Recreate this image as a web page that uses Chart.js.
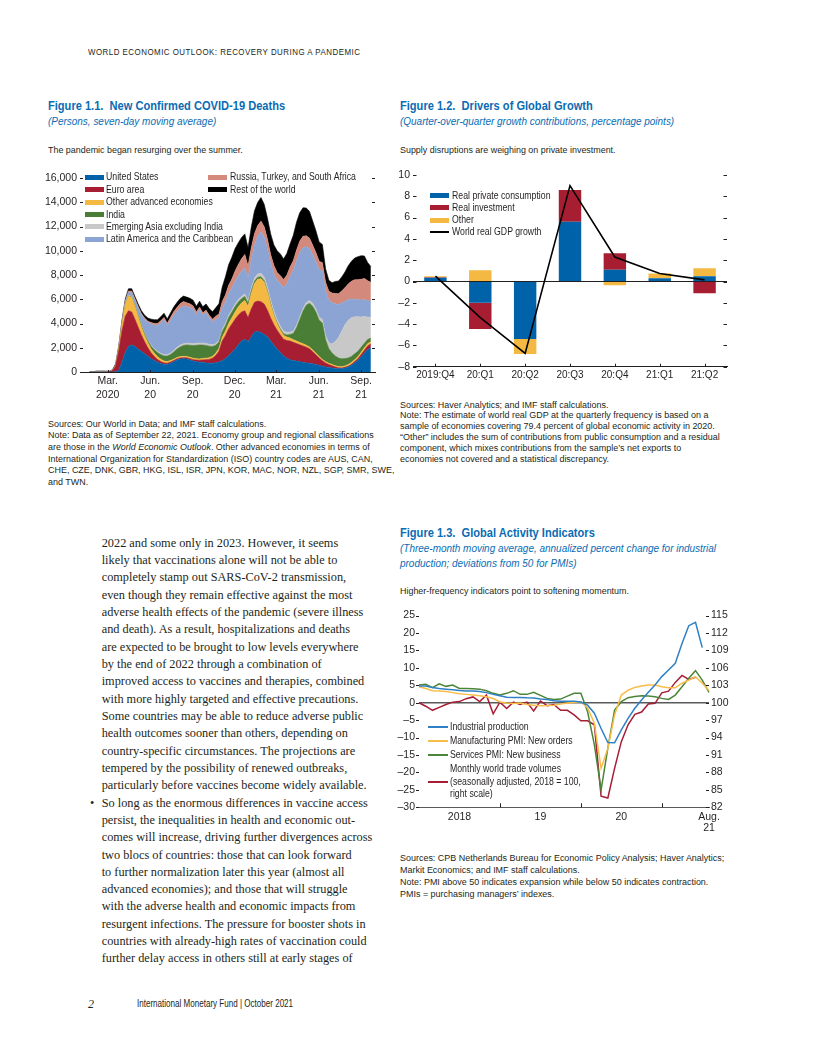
<!DOCTYPE html>
<html>
<head>
<meta charset="utf-8">
<title>World Economic Outlook, October 2021, page 2</title>
<script src="https://cdn.jsdelivr.net/npm/chart.js@4.4.1/dist/chart.umd.min.js"></script>
<style>
  html, body { margin: 0; padding: 0; background: #fff; }
  #page { position: relative; width: 816px; height: 1056px; overflow: hidden;
          font-family: "Liberation Sans Narrow", "Arial Narrow", "Liberation Sans", sans-serif; color: #231f20; }
  .t { position: absolute; white-space: nowrap; transform-origin: 0 0; }
  .head { left: 88px; top: 47px; font-size: 9px; line-height: 10px; letter-spacing: 0.55px; transform: scaleX(0.88); }
  .ftitle { font-weight: bold; font-size: 12.6px; line-height: 14px; color: #0a6cb4; transform: scaleX(0.88); }
  .fsub { font-style: italic; font-size: 10.6px; line-height: 14.4px; color: #0a6cb4; transform: scaleX(0.94); }
  .lead { font-size: 9.8px; line-height: 11px; transform: scaleX(0.91); }
  .src { font-size: 9.7px; transform: scaleX(0.925); }
  .body { font-family: "Liberation Serif", serif; font-size: 12.3px; line-height: 17.33px; left: 101.7px; top: 534.6px; }
  .bullet { font-family: "Liberation Serif", serif; font-size: 12.3px; line-height: 17.33px; left: 90px; top: 794.5px; }
  .foot { top: 997px; font-size: 10.4px; line-height: 14px; }
  canvas { position: absolute; }
  .sw { position: absolute; z-index: 2; }
  .lg { position: absolute; z-index: 2; white-space: nowrap; font-size: 10.4px; line-height: 12px;
        transform: scaleX(0.84); transform-origin: 0 0; }
</style>
</head>
<body>
<div id="page">
  <div class="t head">WORLD ECONOMIC OUTLOOK: RECOVERY DURING A PANDEMIC</div>

  <div class="t ftitle" style="left:48px;top:99px">Figure 1.1.&nbsp; New Confirmed COVID-19 Deaths</div>
  <div class="t fsub" style="left:48px;top:114px">(Persons, seven-day moving average)</div>
  <div class="t lead" style="left:48px;top:143.5px">The pandemic began resurging over the summer.</div>
  <canvas id="deaths" width="345" height="240" style="left:40px;top:165px"></canvas>
  <div class="t src" style="left:48px;top:417.5px;line-height:11.7px">Sources: Our World in Data; and IMF staff calculations.<br>Note: Data as of September 22, 2021. Economy group and regional classifications<br>are those in the <i>World Economic Outlook</i>. Other advanced economies in terms of<br>International Organization for Standardization (ISO) country codes are AUS, CAN,<br>CHE, CZE, DNK, GBR, HKG, ISL, ISR, JPN, KOR, MAC, NOR, NZL, SGP, SMR, SWE,<br>and TWN.</div>

  <div class="t ftitle" style="left:400px;top:99px">Figure 1.2.&nbsp; Drivers of Global Growth</div>
  <div class="t fsub" style="left:400px;top:114px">(Quarter-over-quarter growth contributions, percentage points)</div>
  <div class="t lead" style="left:400px;top:143.5px">Supply disruptions are weighing on private investment.</div>
  <canvas id="drivers" width="360" height="225" style="left:385px;top:160px"></canvas>
  <div class="t src" style="left:400px;top:399.5px;line-height:10.9px">Sources: Haver Analytics; and IMF staff calculations.<br>Note: The estimate of world real GDP at the quarterly frequency is based on a<br>sample of economies covering 79.4 percent of global economic activity in 2020.<br>“Other” includes the sum of contributions from public consumption and a residual<br>component, which mixes contributions from the sample’s net exports to<br>economies not covered and a statistical discrepancy.</div>

  <div class="t ftitle" style="left:400px;top:526.3px">Figure 1.3.&nbsp; Global Activity Indicators</div>
  <div class="t fsub" style="left:400px;top:541.1px">(Three-month moving average, annualized percent change for industrial<br>production; deviations from 50 for PMIs)</div>
  <div class="t lead" style="left:400px;top:584.5px">Higher-frequency indicators point to softening momentum.</div>
  <canvas id="activity" width="370" height="240" style="left:380px;top:600px"></canvas>
  <div class="t src" style="left:400px;top:852.4px;line-height:11.9px">Sources: CPB Netherlands Bureau for Economic Policy Analysis; Haver Analytics;<br>Markit Economics; and IMF staff calculations.<br>Note: PMI above 50 indicates expansion while below 50 indicates contraction.<br>PMIs = purchasing managers’ indexes.</div>

  <div class="t body">2022 and some only in 2023. However, it seems<br>likely that vaccinations alone will not be able to<br>completely stamp out SARS-CoV-2 transmission,<br>even though they remain effective against the most<br>adverse health effects of the pandemic (severe illness<br>and death). As a result, hospitalizations and deaths<br>are expected to be brought to low levels everywhere<br>by the end of 2022 through a combination of<br>improved access to vaccines and therapies, combined<br>with more highly targeted and effective precautions.<br>Some countries may be able to reduce adverse public<br>health outcomes sooner than others, depending on<br>country-specific circumstances. The projections are<br>tempered by the possibility of renewed outbreaks,<br>particularly before vaccines become widely available.<br>So long as the enormous differences in vaccine access<br>persist, the inequalities in health and economic out-<br>comes will increase, driving further divergences across<br>two blocs of countries: those that can look forward<br>to further normalization later this year (almost all<br>advanced economies); and those that will struggle<br>with the adverse health and economic impacts from<br>resurgent infections. The pressure for booster shots in<br>countries with already-high rates of vaccination could<br>further delay access in others still at early stages of</div>
  <div class="t bullet">•</div>

  <div class="t foot" style="left:88px;font-family:'Liberation Serif',serif;font-style:italic;font-size:12px">2</div>
  <div class="t foot" style="left:137px;transform:scaleX(0.775)">International Monetary Fund | October 2021</div>
</div>

<script>
// ---------- Figure 1.1: weekly new deaths (7-day average), 22 Jan 2020 to 22 Sep 2021 ----------
const firstWeek = '2020-01-22';
const usDeaths = [0,0,0,0,0,0,1,5,20,150, 800,1600,2100,2250,2100,1900,1700,1500,1300,1100,
  950,800,700,620,620,720,850,1000,1080,1100, 1080,1000,900,850,800,800,750,720,720,760,
  820,950,1100,1350,1600,1900,2250,2550,2700,2500, 2900,3300,3350,3250,3100,2900,2550,2200,1900,1600,
  1300,1150,1000,950,900,850,800,750,720,680, 620,550,480,420,370,330,290,260,270,330,
  420,550,750,950,1250,1550,1850,2000];
const euroDeaths = [0,0,0,0,0,1,10,90,450,1600, 2600,3000,2950,2700,2250,1800,1350,1000,700,480,
  330,230,170,130,110,100,90,80,80,80, 90,100,120,140,170,200,260,320,420,600,
  900,1600,1900,2200,2350,2450,2450,2400,2350,2000, 2300,2450,2500,2550,2500,2200,1900,1700,1550,1450,
  1400,1450,1550,1500,1450,1400,1350,1300,1200,1000, 800,600,450,330,250,180,130,90,60,55,
  60,80,110,140,190,250,300,320];
const otherAdvDeaths = [0,0,0,0,0,0,1,5,40,200, 550,950,1200,1200,1050,850,650,500,400,320,
  260,220,180,150,130,120,110,110,110,110, 110,110,110,110,110,120,130,140,160,190,
  230,320,380,450,520,600,680,750,850,900, 1250,1550,1800,1900,1800,1500,1100,750,500,380,
  320,280,250,220,200,180,170,160,150,140, 130,120,110,100,100,100,100,100,110,120,
  130,150,160,170,180,190,190,180];
const indiaDeaths = [0,0,0,0,0,0,0,0,1,3, 5,10,25,35,55,85,110,130,160,230,
  300,350,400,420,450,500,600,700,800,900, 950,1000,1050,1100,1150,1100,1050,950,800,650,
  520,480,460,500,480,450,400,350,330,280, 250,200,170,150,130,110,100,100,100,110,
  130,180,300,500,1100,1900,2700,3300,3600,3600, 3400,3000,3000,1800,1200,950,800,700,650,600,
  550,500,480,450,420,380,340,300];
const emAsiaDeaths = [5,25,60,95,110,60,35,20,15,25, 30,50,60,60,60,60,60,60,60,70,
  80,90,100,100,110,120,130,140,150,150, 160,160,160,170,170,170,160,150,140,140,
  140,150,160,170,170,180,190,200,210,220, 230,250,270,290,300,300,290,280,260,240,
  220,210,200,200,200,210,220,220,230,240, 250,260,280,350,500,750,1200,1700,2300,2800,
  3100,3200,3050,2850,2500,2200,1850,1700];
const latamDeaths = [0,0,0,0,0,0,0,1,5,25, 80,150,230,300,400,600,850,1150,1450,1750,
  1950,2150,2500,2900,2400,2700,2900,2950,3050,3100, 3000,2950,2850,2350,2750,2300,2550,2200,1900,2000,
  1850,1800,1750,1800,1800,1900,1950,2050,2150,1850, 2300,2700,3100,3400,3300,3150,3000,3050,3250,3500,
  3600,4000,4600,5000,5300,5300,5000,4600,4300,4000, 3900,3900,4000,3700,3500,3400,3100,2700,2300,1900,
  1700,1550,1450,1400,1400,1400,1350,1350];
const rtsDeaths = [0,0,0,0,0,0,0,0,5,20, 50,90,120,130,120,110,110,110,120,130,
  140,150,170,180,200,230,280,330,360,370, 330,300,260,230,200,190,190,200,220,260,
  320,500,600,680,750,850,950,1050,1100,1000, 1000,950,900,900,850,800,750,700,650,650,
  650,700,750,800,900,950,950,900,850,800, 750,700,700,700,750,800,850,900,1000,1150,
  1300,1450,1600,1650,1700,1750,1650,1550];
const restDeaths = [0,0,0,1,2,5,15,50,120,150, 170,170,180,200,200,200,220,240,260,280,
  300,320,340,350,360,380,400,420,440,450, 460,460,470,480,490,500,520,550,600,700,
  850,1200,1500,1700,1800,1850,1800,1750,1700,1500, 1700,1900,1900,1950,1850,1750,1700,1700,1800,1800,
  1700,1800,1900,2100,2300,2350,2350,2300,2200,2000, 1800,1600,1500,1100,900,850,1000,1050,1150,1300,
  1500,1650,1800,1900,1950,1850,1500,1300];
const deathTickDates = ['2020-03-01','2020-06-01','2020-09-01','2020-12-01','2021-03-01','2021-06-01','2021-09-01'];
const deathTickLabels = [['Mar.','2020'],['Jun.','20'],['Sep.','20'],['Dec.','20'],['Mar.','21'],['Jun.','21'],['Sep.','21']];

// ---------- Figure 1.2: contributions to world q/q growth ----------
const quarters = ['2019:Q4','20:Q1','20:Q2','20:Q3','20:Q4','21:Q1','21:Q2'];
const privConsumption = [0.35, -2.0, -5.4, 5.6, 1.1, 0.3, 0.5];
const investment = [0.05, -2.45, 0, 3.0, 1.55, 0, -1.1];
const otherContrib = [0.1, 1.05, -1.4, 0, -0.35, 0.45, 0.75];
const worldGdp = [0.5, -3.4, -6.75, 9.0, 2.3, 0.75, 0.15];

// ---------- Figure 1.3: monthly activity indicators, Jan 2018 to Aug 2021 ----------
const months = ['2018-01','2018-02','2018-03','2018-04','2018-05','2018-06','2018-07','2018-08','2018-09','2018-10','2018-11','2018-12',
  '2019-01','2019-02','2019-03','2019-04','2019-05','2019-06','2019-07','2019-08','2019-09','2019-10','2019-11','2019-12',
  '2020-01','2020-02','2020-03','2020-04','2020-05','2020-06','2020-07','2020-08','2020-09','2020-10','2020-11','2020-12',
  '2021-01','2021-02','2021-03','2021-04','2021-05','2021-06','2021-07','2021-08'];
const industrialProd = [4.8,4.8,4.4,4.1,3.9,3.7,3.5,3.4,3.35,3.2, 2.9,2.4,2.0,1.6,1.5,1.5,1.4,1.35,1.05,0.9,
  0.6,0.4,0.4,0.4,0.2,-0.7,-3.0,-7.4,-11.4,-11.5, -7.8,-4.5,-1.6,0.8,3.0,5.1,7.5,9.4,11.3,17.0,
  22.1,23.1,15.8];
const mfgNewOrders = [4.6,4.1,3.45,3.35,3.2,2.9,2.6,2.4,2.2,2.0, 1.7,1.2,0.2,-0.1,-0.2,-0.1,-0.5,-0.7,-0.85,-0.8,
  -0.7,-0.4,-0.1,0.1,0.3,-1.5,-5.9,-18.8,-13.1,-3.5, 2.2,3.6,4.4,4.8,5.1,5.1,4.6,4.3,4.3,5.6,
  6.5,7.5,5.6,3.5];
const svcNewBusiness = [5.1,5.3,4.3,5.4,4.7,5.1,4.1,4.1,4.0,3.9, 3.45,2.7,2.2,2.7,3.45,2.4,2.4,3.0,2.1,1.25,
  0.9,1.05,1.9,2.7,2.7,-2.6,-12.0,-25.0,-13.0,-2.1, 0.3,1.45,1.8,2.0,1.9,1.7,1.25,0.95,2.2,4.6,
  7.0,9.2,6.5,3.0];
const tradeVolumes = [100.0,99.4,98.7,99.2,99.7,100.1,100.2,100.7,101.0,100.2, 101.3,98.1,100.1,99.0,100.1,99.7,100.1,98.6,100.3,99.5,
  99.7,98.7,98.7,97.9,96.9,96.9,96.2,83.9,83.6,88.7, 93.3,96.2,98.0,98.4,99.8,99.9,101.7,102.0,103.5,104.7,
  104.0,104.4];
const yearStarts = ['2019-01','2020-01','2021-01'];
const activityTickMonths = ['2018-07','2019-07','2020-07','2021-08'];
const activityTickLabels = ['2018','19','20',['Aug.','21']];

// ---------- shared setup ----------
const INK = '#231f20';
Chart.defaults.font.family = '"Liberation Sans Narrow", "Arial Narrow", "Liberation Sans", sans-serif';
Chart.defaults.font.size = 10.5;
Chart.defaults.color = INK;
Chart.defaults.animation = false;
Chart.defaults.responsive = false;
Chart.defaults.plugins.legend.display = false;
Chart.defaults.plugins.tooltip.enabled = false;

const dash = v => v < 0 ? '\u2013' + Math.abs(v) : String(v);
const dayOf = s => (Date.parse(s) - Date.parse('2020-01-01')) / 864e5;
const fitW = w => s => { s.width = w; };
const fitH = h => s => { s.height = h; };
const noGrid = { display: false, drawTicks: false };

// little tick marks drawn on the plot edges, from the scales' own ticks
function edgeTicks(marks) {
  return {
    id: 'edgeTicks',
    afterDatasetsDraw(chart) {
      const { ctx, chartArea: a } = chart;
      ctx.save();
      ctx.strokeStyle = INK;
      ctx.lineWidth = 1;
      marks.forEach(m => {
        const s = chart.scales[m.axis];
        s.ticks.forEach((t, k) => {
          const len = m.isMajor(t.value, k) ? m.len : m.minorLen;
          if (!len) return;
          const p = Math.round(s.getPixelForValue(t.value)) + 0.5;
          const o = m.offset || 0;
          ctx.beginPath();
          if (m.edge === 'left') { ctx.moveTo(a.left + o, p); ctx.lineTo(a.left + o + len, p); }
          if (m.edge === 'right') { ctx.moveTo(a.right - o, p); ctx.lineTo(a.right - o - len, p); }
          if (m.edge === 'bottom') { ctx.moveTo(p, a.bottom); ctx.lineTo(p, a.bottom - len); }
          ctx.stroke();
        });
      });
      ctx.restore();
    }
  };
}

function hLine(chart, value, color, width) {
  const { ctx, chartArea: a } = chart;
  const p = chart.scales.y.getPixelForValue(value);
  ctx.save();
  ctx.strokeStyle = color;
  ctx.lineWidth = width;
  ctx.beginPath();
  ctx.moveTo(a.left, p);
  ctx.lineTo(a.right, p);
  ctx.stroke();
  ctx.restore();
}

const page = document.getElementById('page');
function swatch(x, y, w, h, color) {
  const d = document.createElement('div');
  d.className = 'sw';
  d.style.cssText = `left:${x}px;top:${y - h / 2}px;width:${w}px;height:${h}px;background:${color}`;
  page.appendChild(d);
}
function legendText(x, y, text) {
  const d = document.createElement('div');
  d.className = 'lg';
  d.style.left = x + 'px';
  d.style.top = (y - 6) + 'px';
  d.textContent = text;
  page.appendChild(d);
}

// ---------- Figure 1.1 ----------
const deathSeries = [
  ['United States', usDeaths, '#0063a9'],
  ['Euro area', euroDeaths, '#a71e32'],
  ['Other advanced economies', otherAdvDeaths, '#f3b943'],
  ['India', indiaDeaths, '#4a7d35'],
  ['Emerging Asia excluding India', emAsiaDeaths, '#c8c8c8'],
  ['Latin America and the Caribbean', latamDeaths, '#8ba4d4'],
  ['Russia, Turkey, and South Africa', rtsDeaths, '#d38a7c'],
  ['Rest of the world', restDeaths, '#000000']
];
const firstDay = dayOf(firstWeek);
new Chart(document.getElementById('deaths'), {
  type: 'line',
  data: {
    datasets: deathSeries.map(([label, vals, color], i) => ({
      label,
      data: vals.map((v, k) => ({ x: firstDay + 7 * k, y: v })),
      backgroundColor: color,
      borderColor: color,
      borderWidth: 0.6,
      pointRadius: 0,
      tension: 0,
      fill: i === 0 ? 'origin' : '-1'
    }))
  },
  options: {
    layout: { padding: { top: 13, right: 10, left: 0, bottom: 0 } },
    scales: {
      x: {
        type: 'linear', min: 0, max: dayOf('2021-10-01'),
        grid: noGrid, border: { display: true, color: INK, width: 1 },
        afterBuildTicks: s => { s.ticks = deathTickDates.map(d => ({ value: dayOf(d) })); },
        afterFit: fitH(33),
        ticks: { padding: 3, maxRotation: 0, autoSkip: false, font: { size: 10.5, lineHeight: 1.25 },
          callback: (v, i) => deathTickLabels[i] }
      },
      y: {
        stacked: true, min: 0, max: 16000,
        grid: noGrid, border: { display: false },
        afterFit: fitW(40),
        ticks: { stepSize: 1000, padding: 3, callback: v => v % 2000 === 0 ? v.toLocaleString('en-US') : '' }
      }
    }
  },
  plugins: [edgeTicks([
    { axis: 'y', edge: 'left', isMajor: v => v % 2000 === 0, len: 3, minorLen: 1.5 },
    { axis: 'y', edge: 'right', isMajor: v => v % 2000 === 0, len: 3, minorLen: 2 },
    { axis: 'x', edge: 'bottom', isMajor: () => true, len: 2 }
  ])]
});
deathSeries.forEach(([label, , color], i) => {
  const col = i < 6 ? 0 : 1;
  const row = i < 6 ? i : i - 6;
  const y = 177.3 + row * 12.4;
  swatch(col ? 208 : 85, y, 19, 5, color);
  legendText(col ? 229.5 : 106, y, label);
});

// ---------- Figure 1.2 ----------
const driverSeries = [
  ['Real private consumption', privConsumption, '#0063a9'],
  ['Real investment', investment, '#a71e32'],
  ['Other', otherContrib, '#f3b943']
];
new Chart(document.getElementById('drivers'), {
  type: 'bar',
  data: {
    labels: quarters,
    datasets: [
      ...driverSeries.map(([label, vals, color]) => ({
        label, data: vals, backgroundColor: color, stack: 'parts', order: 1,
        categoryPercentage: 1, barPercentage: 0.5
      })),
      { type: 'line', label: 'World real GDP growth', data: worldGdp, stack: 'gdp', order: 0,
        borderColor: '#000', borderWidth: 1.6, pointRadius: 0, tension: 0, fill: false }
    ]
  },
  options: {
    layout: { padding: { top: 15, right: 18, left: 0, bottom: 0 } },
    scales: {
      x: {
        stacked: true, grid: noGrid, border: { display: true, color: INK, width: 1 },
        afterFit: fitH(18.3),
        ticks: { padding: 3, maxRotation: 0, font: { size: 10 } }
      },
      y: {
        stacked: true, min: -8, max: 10,
        grid: noGrid, border: { display: false },
        afterFit: fitW(28),
        ticks: { stepSize: 1, padding: 3, callback: v => v % 2 === 0 ? dash(v) : '' }
      }
    }
  },
  plugins: [
    { id: 'zero12', beforeDatasetDraw(chart, args) { if (args.index === 3) hLine(chart, 0, INK, 1.2); } },
    edgeTicks([
      { axis: 'y', edge: 'left', isMajor: v => v % 2 === 0, len: 3.5, minorLen: 1.5 },
      { axis: 'y', edge: 'right', isMajor: v => v % 2 === 0, len: 3.5, minorLen: 1.5 },
      { axis: 'x', edge: 'bottom', isMajor: () => true, len: 3 }
    ])
  ]
});
driverSeries.forEach(([label, , color], i) => {
  const y = 195.7 + i * 12.2;
  swatch(430, y, 19, 5, color);
  legendText(451.7, y, label);
});
swatch(430, 195.7 + 3 * 12.2, 19, 1.8, '#000');
legendText(451.7, 195.7 + 3 * 12.2, 'World real GDP growth');

// ---------- Figure 1.3 ----------
const activitySeries = [
  ['Industrial production', industrialProd, '#2f80c4', 'y'],
  ['Manufacturing PMI: New orders', mfgNewOrders, '#f7bd48', 'y'],
  ['Services PMI: New business', svcNewBusiness, '#4b8539', 'y'],
  ['Monthly world trade volumes (seasonally adjusted, 2018 = 100, right scale)', tradeVolumes, '#a61d34', 'y2']
];
new Chart(document.getElementById('activity'), {
  type: 'line',
  data: {
    labels: months,
    datasets: activitySeries.map(([label, vals, color, axis]) => ({
      label, data: vals, yAxisID: axis, borderColor: color, borderWidth: 1.5,
      pointRadius: 0, tension: 0, fill: false
    }))
  },
  options: {
    layout: { padding: { top: 15.6, right: 0, left: 0, bottom: 0 } },
    scales: {
      x: {
        offset: false, grid: noGrid, border: { display: true, color: '#58595b', width: 1 },
        afterFit: fitH(32.7),
        ticks: { padding: 3.5, maxRotation: 0, autoSkip: false, font: { size: 10.5, lineHeight: 1.12 },
          callback: (v, i) => {
            const k = activityTickMonths.indexOf(months[i]);
            return k < 0 ? '' : activityTickLabels[k];
          } }
      },
      y: {
        position: 'left', min: -30, max: 25,
        grid: noGrid, border: { display: false },
        afterFit: fitW(39),
        ticks: { stepSize: 2.5, padding: 4, callback: v => v % 5 === 0 ? dash(v) : '' }
      },
      y2: {
        position: 'right', min: 82, max: 115,
        grid: noGrid, border: { display: false },
        afterFit: fitW(41),
        afterBuildTicks: s => {
          const t = [];
          for (let v = 82; v <= 115; v += 1.5) t.push({ value: v });
          s.ticks = t;
        },
        ticks: { padding: 2, callback: v => (v - 82) % 3 === 0 ? v : '' }
      }
    }
  },
  plugins: [
    { id: 'zero13', beforeDatasetsDraw(chart) { hLine(chart, 0, '#58595b', 1.5); } },
    edgeTicks([
      { axis: 'y', edge: 'left', offset: -3, isMajor: v => v % 5 === 0, len: 3, minorLen: 1.5 },
      { axis: 'y2', edge: 'right', isMajor: v => (v - 82) % 3 === 0, len: 3, minorLen: 1.5 },
      { axis: 'x', edge: 'bottom', isMajor: (v, k) => yearStarts.includes(months[k]), len: 4, minorLen: 0 }
    ])
  ]
});
const activityLegendRows = [727.3, 741, 755.3];
activitySeries.slice(0, 3).forEach(([label, , color], i) => {
  swatch(428, activityLegendRows[i], 20, 2, color);
  legendText(450, activityLegendRows[i], label);
});
swatch(428, 781.7, 20, 2, activitySeries[3][2]);
legendText(450, 769.3, 'Monthly world trade volumes');
legendText(450, 781.7, '(seasonally adjusted, 2018 = 100,');
legendText(450, 794, 'right scale)');
</script>
</body>
</html>
